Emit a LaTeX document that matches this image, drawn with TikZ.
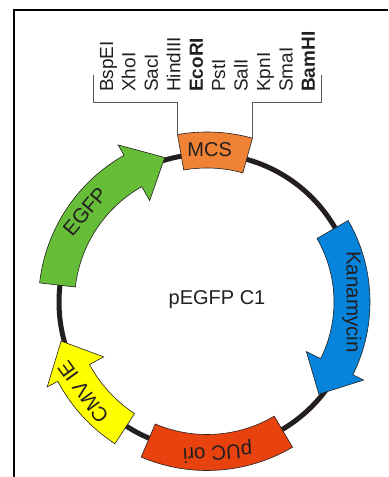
\documentclass[tikz,border=0pt]{standalone}
\usepackage{fontspec}
\setmainfont{Liberation Sans}
\usetikzlibrary{positioning}
\definecolor{inkCol}{HTML}{231F20}
\definecolor{gfpCol}{HTML}{66BE38}
\definecolor{mcsCol}{HTML}{F08236}
\definecolor{kanCol}{HTML}{0683DB}
\definecolor{cmvCol}{HTML}{FFFF00}
\definecolor{oriCol}{HTML}{E8430F}
\tikzset{
  ring/.style={draw=inkCol, line width=5bp},
  feat/.style={draw=inkCol, line width=0.6bp, line join=miter},
  flbl/.style={font=\fontsize{20bp}{23bp}\selectfont, text=inkCol, inner sep=0pt},
  albl/.style={flbl, font=\fontsize{20.5bp}{24bp}\selectfont},
  enz/.style={flbl, font=\fontsize{19bp}{22bp}\selectfont, rotate=90, anchor=base west},
  bracket/.style={draw=black!65, line width=0.7bp},
  frame/.style={draw=black, line width=2bp},
}
% arrow on the ring: colour, tail angle, head base angle, tip angle, mid radius
\newcommand{\arcarrow}[5]{%
  \pgfmathsetmacro{\ri}{#5-18}\pgfmathsetmacro{\ro}{#5+18}%
  \pgfmathsetmacro{\bi}{#5-34}\pgfmathsetmacro{\bo}{#5+30}%
  \draw[feat, fill=#1] (#2:\ro) arc[start angle=#2, end angle=#3, radius=\ro]
    -- (#3:\bo) -- (#4:#5) -- (#3:\bi) -- (#3:\ri)
    arc[start angle=#3, end angle=#2, radius=\ri] -- cycle;}
% plain block on the ring: colour, start angle, end angle, mid radius
\newcommand{\arcband}[4]{%
  \pgfmathsetmacro{\ri}{#4-18}\pgfmathsetmacro{\ro}{#4+18}%
  \draw[feat, fill=#1] (#2:\ro) arc[start angle=#2, end angle=#3, radius=\ro]
    -- (#3:\ri) arc[start angle=#3, end angle=#2, radius=\ri] -- cycle;}

\begin{document}
\begin{tikzpicture}[x=1bp,y=1bp]
  \useasboundingbox (0,0) rectangle (388,477);
  \draw[frame] (14,0) |- (388,466.5);
  \coordinate (o) at (207,175);

  \begin{scope}[shift={(o)}]
    \draw[ring] (0,0) circle[radius=148];
    \arcarrow{gfpCol}{173.5}{119.5}{106.3}{150.5}
    \arcarrow{kanCol}{30}{-26.5}{-39.5}{145}
    \arcarrow{cmvCol}{237}{208}{195}{151}
    \arcband{oriCol}{247}{300.5}{150.5}
    \arcband{mcsCol}{74.5}{100}{152}
    \coordinate (mcsL) at (100:170);
    \coordinate (mcsR) at (74.5:170);

    \node[flbl] (mcs) at (89:152) {MCS};
    \node[albl, rotate=50] (egfp) at (143.4:152) {EGFP};
    \node[albl, rotate=-90] (kan) at (0:145) {Kanamycin};
    \node[albl, rotate=126] (cmv) at (216:153) {CMV IE};
    \node[albl, rotate=184] (ori) at (274:150) {pUC ori};
  \end{scope}
  \node[flbl] (name) at (217,177) {pEGFP C1};

  % restriction sites of the MCS
  \foreach \enz [count=\i] in {BspEI,XhoI,SacI,HindIII,\textbf{EcoRI},PstI,SalI,KpnI,SmaI,\textbf{BamHI}}
    \node[enz] (e\i) at ({113+22.44*(\i-1)},385) {\enz};
  \coordinate (kL) at (93,375);  \coordinate (tL) at (93,402);
  \coordinate (kR) at (321,375); \coordinate (tR) at (321,402);
  \draw[bracket] (mcsL) |- (kL) -- (tL);
  \draw[bracket] (mcsR) |- (kR) -- (tR);
\end{tikzpicture}
\end{document}
